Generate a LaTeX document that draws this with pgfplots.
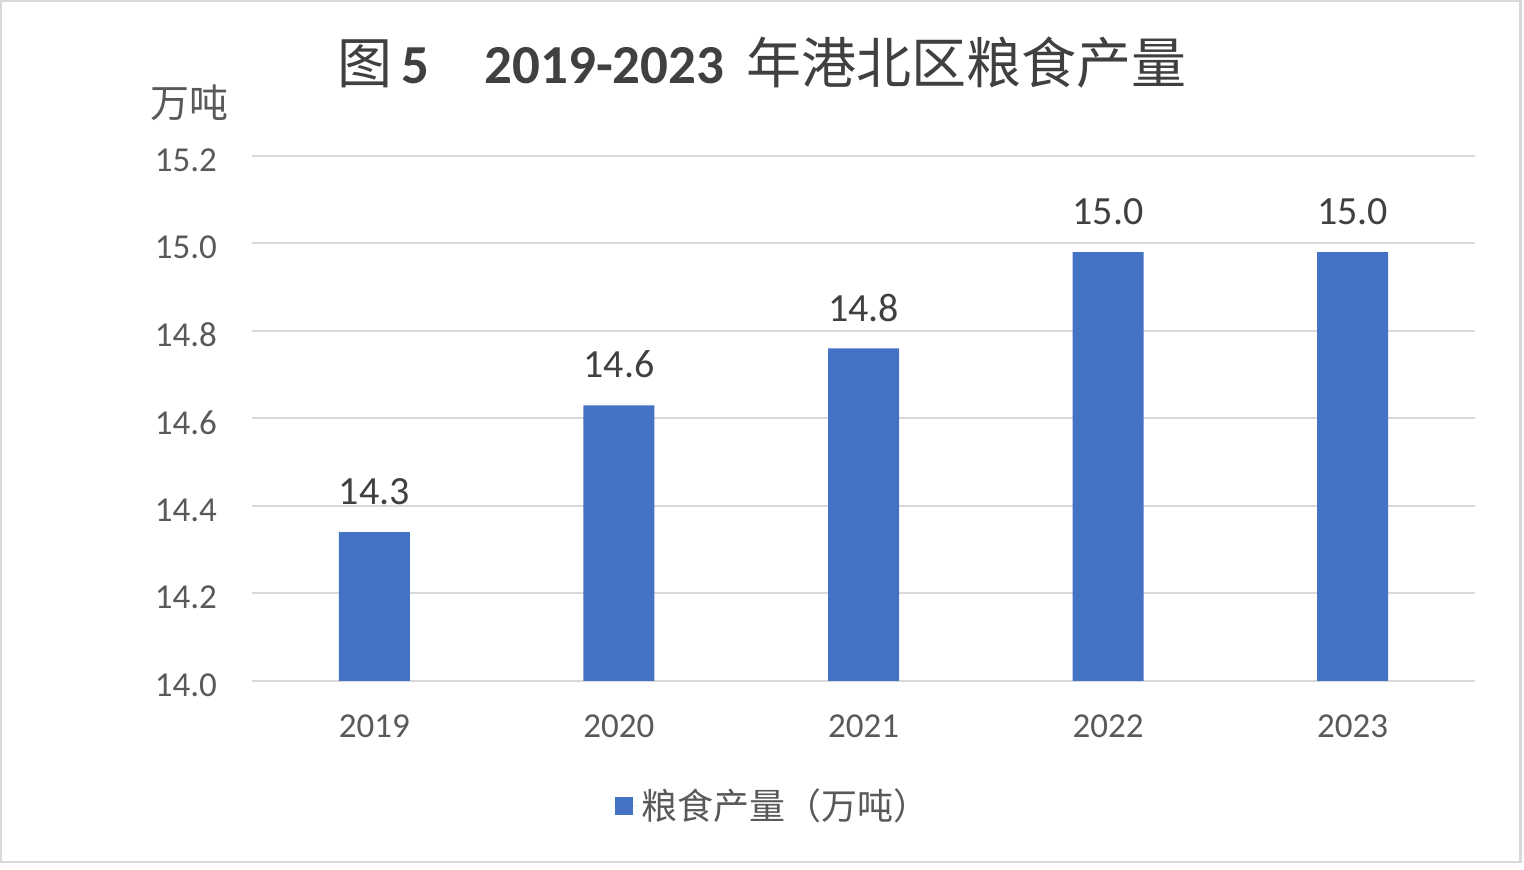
\documentclass[border=0pt]{standalone}
\usepackage{pgfplots}
\pgfplotsset{compat=1.18}
\usepackage{fontspec}
\setmainfont{Carlito}
\newfontfamily\cjk{Noto Sans CJK SC}
\definecolor{barblue}{HTML}{4472C4}
\definecolor{gridgray}{HTML}{D9D9D9}
\definecolor{ticktext}{HTML}{595959}
\definecolor{titletext}{HTML}{404040}
\begin{document}
\begin{tikzpicture}
\path[use as bounding box] (0pt,0pt) rectangle (762pt,435pt);
\draw[gridgray,line width=1.2pt] (0.6pt,4.0pt) rectangle (760.2pt,434.4pt);
\begin{axis}[
  at={(126pt,94.5pt)}, anchor=south west,
  scale only axis, width=611.5pt, height=262.5pt,
  ymin=14, ymax=15.2, ytick={14,14.2,14.4,14.6,14.8,15.0,15.2},
  xmin=-0.5, xmax=4.5, xtick=data,
  xticklabels={2019,2020,2021,2022,2023},
  ybar, bar width=35.5pt,
  axis line style={draw=none},
  major tick length=0pt,
  ymajorgrids, grid style={gridgray,line width=1pt},
  yticklabel style={font=\fontsize{17.5}{20}\selectfont,text=ticktext,xshift=-14pt,yshift=-2pt,
    /pgf/number format/fixed,/pgf/number format/fixed zerofill,/pgf/number format/precision=1},
  xticklabel style={font=\fontsize{17.5}{20}\selectfont,text=ticktext,yshift=-13.5pt},
  /pgf/number format/assume math mode=true,
  nodes near coords,
  nodes near coords style={font=\fontsize{20}{22}\selectfont,text=titletext,yshift=10pt,
    /pgf/number format/fixed,/pgf/number format/fixed zerofill,/pgf/number format/precision=1},
  legend style={at={(0.427,-0.238)},anchor=center,draw=none,fill=none,
    font=\cjk\fontsize{18}{20}\selectfont,text=ticktext},
  legend image code/.code={\fill[barblue] (0pt,-4.5pt) rectangle (9pt,4.5pt);
    \path (0pt,0pt) -- (11.5pt,0pt);},
]
\addplot[fill=barblue,draw=none] coordinates {(0,14.34) (1,14.63) (2,14.76) (3,14.98) (4,14.98)};
\addlegendentry{粮食产量（万吨）}
\end{axis}
\node[text=titletext,font=\fontsize{27.5}{30}\selectfont] at (381pt,403.5pt)
  {{\cjk 图}\,\textbf{5}{\cjk\hspace{1em}}\textbf{2019-2023}\hspace{0.4em}{\cjk 年港北区粮食产量}};
\node[text=ticktext,font=\cjk\fontsize{19.5}{22}\selectfont] at (94.5pt,383.5pt) {万吨};
\end{tikzpicture}
\end{document}
